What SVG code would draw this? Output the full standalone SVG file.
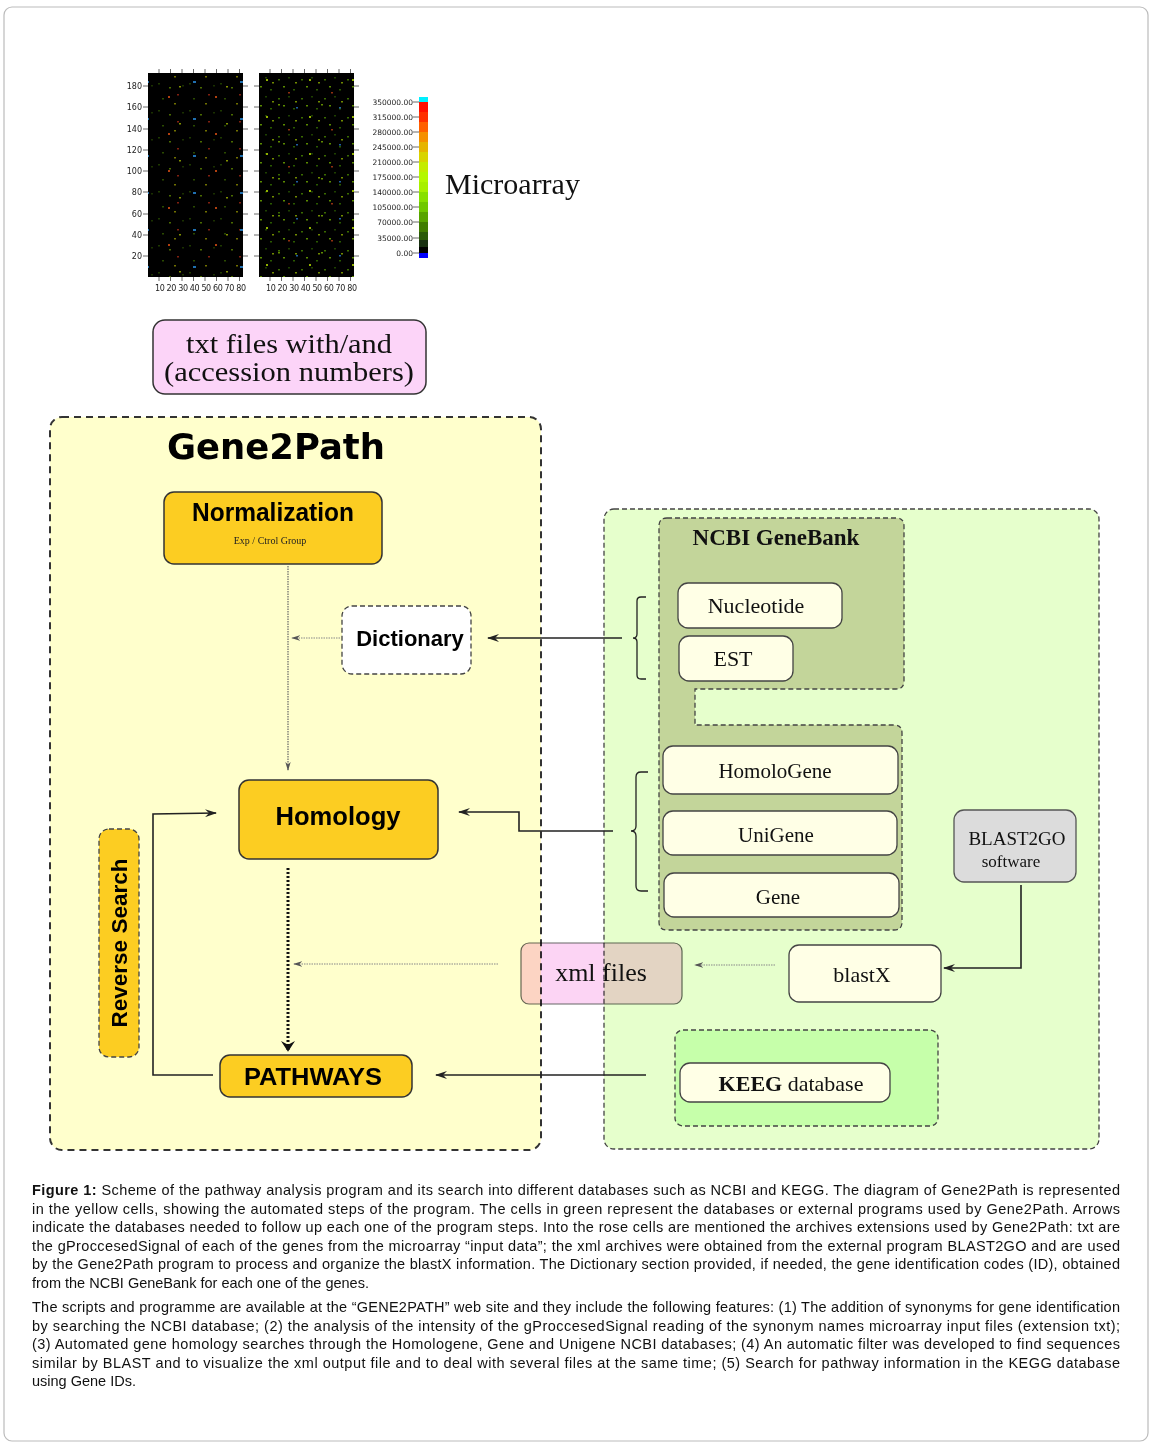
<svg xmlns="http://www.w3.org/2000/svg" width="1154" height="1446" viewBox="0 0 1154 1446">
<style>
.sans{font-family:"Liberation Sans",Arial,sans-serif}
.dv{font-family:"DejaVu Sans",Verdana,sans-serif}
.serif{font-family:"Liberation Serif","Times New Roman",serif}
.box{stroke:#333;stroke-width:1.5}
.gold{fill:#fccd22}
.cream{fill:#ffffe6;stroke:#444;stroke-width:1.3}
.dash{stroke:#333;stroke-dasharray:7,5;stroke-width:2}
.dash2{stroke:#444;stroke-dasharray:5,3;stroke-width:1.3}
.conn{fill:none;stroke:#222;stroke-width:1.6}
.light{fill:none;stroke:#888;stroke-width:1.2;stroke-dasharray:1.5,1}
.ax{font-family:"DejaVu Sans",sans-serif;font-size:8px;fill:#222}
.tick{stroke:#444;stroke-width:0.8}
.cap{font-family:"Liberation Sans",Arial,sans-serif;font-size:14.5px;fill:#111}
</style>
<defs>
<marker id="arr" viewBox="0 0 12 8" refX="11" refY="4" markerWidth="12" markerHeight="8" markerUnits="userSpaceOnUse" orient="auto">
<path d="M0,0 L12,4 L0,8 L4,4 z" fill="#222"/>
</marker>
<marker id="arrL" viewBox="0 0 10 6" refX="9" refY="3" markerWidth="9" markerHeight="6" markerUnits="userSpaceOnUse" orient="auto">
<path d="M0,0 L10,3 L0,6 L3,3 z" fill="#555"/>
</marker>
<marker id="arrB" viewBox="0 0 14 18" refX="13" refY="9" markerWidth="18" markerHeight="14" markerUnits="userSpaceOnUse" orient="auto">
<path d="M0,0 L14,9 L0,18 L5,9 z" fill="#111"/>
</marker>
<pattern id="dotsA" width="31" height="27" patternUnits="userSpaceOnUse">
<rect x="3" y="2" width="2" height="1.5" fill="#1e3a00"/>
<rect x="14" y="6" width="2" height="1.5" fill="#4a6a00"/>
<rect x="22" y="13" width="2" height="1.5" fill="#802010"/>
<rect x="7" y="17" width="2" height="1.5" fill="#2a4a00"/>
<rect x="19" y="22" width="2" height="1.5" fill="#707000"/>
<rect x="27" y="4" width="2" height="1.5" fill="#1a3000"/>
</pattern>
<pattern id="dotsB" width="47" height="37" patternUnits="userSpaceOnUse">
<rect x="5" y="7" width="3" height="2" fill="#2070b0"/>
<rect x="27" y="22" width="2" height="2" fill="#b04010"/>
<rect x="38" y="12" width="2" height="1.5" fill="#809000"/>
</pattern>
<pattern id="dotsC" width="23" height="19" patternUnits="userSpaceOnUse">
<rect x="2" y="3" width="2" height="1.5" fill="#3a6a00"/>
<rect x="12" y="1" width="2" height="1.5" fill="#1e4000"/>
<rect x="7" y="10" width="2" height="1.5" fill="#5a8a00"/>
<rect x="17" y="13" width="2" height="1.5" fill="#2a5a00"/>
<rect x="19" y="6" width="2" height="1.5" fill="#708a00"/>
</pattern>
<pattern id="dotsD" width="43" height="37" patternUnits="userSpaceOnUse">
<rect x="8" y="5" width="2" height="2" fill="#90b000"/>
<rect x="30" y="18" width="2" height="1.5" fill="#903010"/>
<rect x="20" y="30" width="2" height="1.5" fill="#608a00"/>
<rect x="38" y="33" width="2" height="1.5" fill="#2060a0"/>
</pattern>
</defs>

<rect x="4" y="7" width="1144" height="1434" rx="8" fill="#fff" stroke="#bbb" stroke-width="1.2"/>

<!-- Microarray image -->
<g id="microarray">
<rect x="148" y="73" width="95" height="204" fill="#000"/>
<rect x="148" y="73" width="95" height="204" fill="url(#dotsA)"/>
<rect x="148" y="73" width="95" height="204" fill="url(#dotsB)"/>
<rect x="259" y="73" width="95" height="204" fill="#000"/>
<rect x="259" y="73" width="95" height="204" fill="url(#dotsC)"/>
<rect x="259" y="73" width="95" height="204" fill="url(#dotsD)"/>
<g class="tick">
<path d="M143,86h5M143,107h5M143,129h5M143,150h5M143,171h5M143,192h5M143,214h5M143,235h5M143,256h5"/>
<path d="M243,86h5M243,107h5M243,129h5M243,150h5M243,171h5M243,192h5M243,214h5M243,235h5M243,256h5"/>
<path d="M254,86h5M254,107h5M254,129h5M254,150h5M254,171h5M254,192h5M254,214h5M254,235h5M254,256h5"/>
<path d="M354,86h5M354,107h5M354,129h5M354,150h5M354,171h5M354,192h5M354,214h5M354,235h5M354,256h5"/>
<path d="M159,69v4M170.5,69v4M182,69v4M193.5,69v4M205,69v4M216.5,69v4M228,69v4M239.5,69v4"/>
<path d="M270,69v4M281.5,69v4M293,69v4M304.5,69v4M316,69v4M327.5,69v4M339,69v4M350.5,69v4"/>
<path d="M159,277v4M170.5,277v4M182,277v4M193.5,277v4M205,277v4M216.5,277v4M228,277v4M239.5,277v4"/>
<path d="M270,277v4M281.5,277v4M293,277v4M304.5,277v4M316,277v4M327.5,277v4M339,277v4M350.5,277v4"/>
</g>
<g class="ax" text-anchor="end">
<text x="142" y="89">180</text><text x="142" y="110">160</text><text x="142" y="132">140</text>
<text x="142" y="153">120</text><text x="142" y="174">100</text><text x="142" y="195">80</text>
<text x="142" y="217">60</text><text x="142" y="238">40</text><text x="142" y="259">20</text>
</g>
<text class="ax" x="155" y="291" textLength="91" lengthAdjust="spacing">10 20 30 40 50 60 70 80</text>
<text class="ax" x="266" y="291" textLength="91" lengthAdjust="spacing">10 20 30 40 50 60 70 80</text>
<!-- colorbar -->
<rect x="419" y="97" width="9" height="5" fill="#00f0ff"/>
<rect x="419" y="102" width="9" height="10" fill="#ff1000"/>
<rect x="419" y="112" width="9" height="10" fill="#ff3000"/>
<rect x="419" y="122" width="9" height="10" fill="#ff6000"/>
<rect x="419" y="132" width="9" height="10" fill="#f59000"/>
<rect x="419" y="142" width="9" height="10" fill="#e6b400"/>
<rect x="419" y="152" width="9" height="10" fill="#d8d400"/>
<rect x="419" y="162" width="9" height="10" fill="#c4ec00"/>
<rect x="419" y="172" width="9" height="10" fill="#b4f800"/>
<rect x="419" y="182" width="9" height="10" fill="#a8f000"/>
<rect x="419" y="192" width="9" height="10" fill="#88e000"/>
<rect x="419" y="202" width="9" height="10" fill="#70c800"/>
<rect x="419" y="212" width="9" height="10" fill="#58a400"/>
<rect x="419" y="222" width="9" height="10" fill="#407c00"/>
<rect x="419" y="232" width="9" height="8" fill="#2a5a08"/>
<rect x="419" y="240" width="9" height="7" fill="#183010"/>
<rect x="419" y="247" width="9" height="6" fill="#000"/>
<rect x="419" y="253" width="9" height="5" fill="#0000ff"/>
<g class="tick">
<path d="M413,102h6M413,117h6M413,132h6M413,147h6M413,162h6M413,177h6M413,192h6M413,207h6M413,222h6M413,238h6M413,253h6"/>
</g>
<g class="ax" text-anchor="end" style="font-size:7.5px">
<text x="413" y="105">350000.00</text><text x="413" y="120">315000.00</text><text x="413" y="135">280000.00</text>
<text x="413" y="150">245000.00</text><text x="413" y="165">210000.00</text><text x="413" y="180">175000.00</text>
<text x="413" y="195">140000.00</text><text x="413" y="210">105000.00</text><text x="413" y="225">70000.00</text>
<text x="413" y="241">35000.00</text><text x="413" y="256">0.00</text>
</g>
<text class="serif" x="445" y="194" font-size="30" fill="#111">Microarray</text>
</g>

<g id="txtfiles">
<rect x="153" y="320" width="273" height="74" rx="12" fill="#fcd4f8" class="box"/>
<text class="serif" x="289" y="353" font-size="27" text-anchor="middle" textLength="206" lengthAdjust="spacingAndGlyphs" fill="#111">txt files with/and</text>
<text class="serif" x="289" y="381" font-size="27" text-anchor="middle" textLength="250" lengthAdjust="spacingAndGlyphs" fill="#111">(accession numbers)</text>
</g>

<!-- containers -->
<g id="gene2path">
<rect x="50" y="417" width="491" height="733" rx="12" fill="#ffffcc" class="dash"/>
<text class="dv" x="276" y="459" font-size="35" font-weight="bold" text-anchor="middle" textLength="218" lengthAdjust="spacingAndGlyphs" fill="#000">Gene2Path</text>
</g>
<g id="external">
<rect x="604" y="509" width="495" height="640" rx="10" fill="#e6ffcc" class="dash2"/>
</g>
<g id="ncbi">
<path d="M667,518 H896 Q904,518 904,526 V681 Q904,689 896,689 H695 V725 H894 Q902,725 902,733 V922 Q902,930 894,930 H667 Q659,930 659,922 V526 Q659,518 667,518 Z" fill="#c3d59a" class="dash2"/>
<text class="serif" x="776" y="545" font-size="23" font-weight="bold" text-anchor="middle" fill="#111">NCBI GeneBank</text>
</g>
<g id="keggarea">
<rect x="675" y="1030" width="263" height="96" rx="8" fill="#c6ffaa" class="dash2"/>
</g>

<!-- connectors -->
<g id="connectors">
<line x1="288" y1="566" x2="288" y2="770" class="light" marker-end="url(#arrL)" style="stroke:#666"/>
<line x1="340" y1="638" x2="292" y2="638" class="light" marker-end="url(#arrL)"/>
<line x1="622" y1="638" x2="488" y2="638" class="conn" marker-end="url(#arr)"/>
<polyline points="613,831 519,831 519,812 459,812" class="conn" marker-end="url(#arr)"/>
<line x1="288" y1="868" x2="288" y2="1051" style="fill:none;stroke:#111;stroke-width:3;stroke-dasharray:2,2" marker-end="url(#arrB)"/>
<line x1="498" y1="964" x2="294" y2="964" class="light" marker-end="url(#arrL)"/>
<line x1="646" y1="1075" x2="436" y2="1075" class="conn" marker-end="url(#arr)"/>
<polyline points="213,1075 153,1075 153,814 216,813" class="conn" marker-end="url(#arr)"/>
<polyline points="1021,885 1021,968 944,968" class="conn" marker-end="url(#arr)"/>
<line x1="775" y1="965" x2="695" y2="965" class="light" marker-end="url(#arrL)"/>
<path d="M646,597 H641 Q637,597 637,601 V634 Q637,638 633,638 Q637,638 637,642 V675 Q637,679 641,679 H646" class="conn" style="stroke-width:1.3"/>
<path d="M648,772 H641 Q636,772 636,777 V826 Q636,831 631,831 Q636,831 636,836 V886 Q636,891 641,891 H648" class="conn" style="stroke-width:1.3"/>
</g>

<!-- nodes -->
<g id="normalization">
<rect x="164" y="492" width="218" height="72" rx="10" class="gold box"/>
<text class="sans" x="273" y="521" font-size="26" font-weight="bold" text-anchor="middle" textLength="162" lengthAdjust="spacingAndGlyphs" fill="#000">Normalization</text>
<text class="serif" x="270" y="544" font-size="10" text-anchor="middle" fill="#222">Exp / Ctrol Group</text>
</g>
<g id="dictionary">
<rect x="342" y="606" width="129" height="68" rx="10" fill="#fff" class="dash2"/>
<text class="sans" x="410" y="646" font-size="22" font-weight="bold" text-anchor="middle" fill="#000">Dictionary</text>
</g>
<g id="homology">
<rect x="239" y="780" width="199" height="79" rx="10" class="gold box"/>
<text class="sans" x="338" y="825" font-size="26" font-weight="bold" text-anchor="middle" textLength="125" lengthAdjust="spacingAndGlyphs" fill="#000">Homology</text>
</g>
<g id="pathways">
<rect x="220" y="1055" width="192" height="42" rx="10" class="gold box"/>
<text class="sans" x="313" y="1085" font-size="24" font-weight="bold" text-anchor="middle" textLength="138" lengthAdjust="spacingAndGlyphs" fill="#000">PATHWAYS</text>
</g>
<g id="reversesearch">
<rect x="99" y="829" width="40" height="228" rx="10" class="gold dash2"/>
<text class="sans" transform="translate(127,943) rotate(-90)" x="0" y="0" font-size="22" font-weight="bold" text-anchor="middle" textLength="169" lengthAdjust="spacingAndGlyphs" fill="#000">Reverse Search</text>
</g>
<g id="nucleotide">
<rect x="678" y="583" width="164" height="45" rx="10" class="cream"/>
<text class="serif" x="756" y="613" font-size="22" text-anchor="middle" fill="#111">Nucleotide</text>
</g>
<g id="est">
<rect x="679" y="636" width="114" height="45" rx="10" class="cream"/>
<text class="serif" x="733" y="666" font-size="22" text-anchor="middle" fill="#111">EST</text>
</g>
<g id="homologene">
<rect x="663" y="746" width="235" height="48" rx="10" class="cream"/>
<text class="serif" x="775" y="778" font-size="21" text-anchor="middle" fill="#111">HomoloGene</text>
</g>
<g id="unigene">
<rect x="663" y="811" width="234" height="44" rx="10" class="cream"/>
<text class="serif" x="776" y="842" font-size="21" text-anchor="middle" fill="#111">UniGene</text>
</g>
<g id="gene">
<rect x="664" y="873" width="235" height="44" rx="10" class="cream"/>
<text class="serif" x="778" y="904" font-size="21" text-anchor="middle" fill="#111">Gene</text>
</g>
<g id="blast2go">
<rect x="954" y="810" width="122" height="72" rx="10" fill="#dcdcdc" stroke="#555" stroke-width="1.3"/>
<text class="serif" x="1017" y="845" font-size="19" text-anchor="middle" fill="#111">BLAST2GO</text>
<text class="serif" x="1011" y="867" font-size="17" text-anchor="middle" fill="#111">software</text>
</g>
<g id="blastx">
<rect x="789" y="945" width="152" height="57" rx="10" class="cream"/>
<text class="serif" x="862" y="982" font-size="22" text-anchor="middle" fill="#111">blastX</text>
</g>
<g id="xmlfiles">
<rect x="521" y="943" width="161" height="61" rx="8" fill="#fcd4f4" stroke="#666" stroke-width="1.2" style="mix-blend-mode:multiply"/>
<text class="serif" x="601" y="981" font-size="26" text-anchor="middle" fill="#111">xml files</text>
</g>
<g id="kegg">
<rect x="680" y="1063" width="210" height="39" rx="10" class="cream"/>
<text class="serif" x="791" y="1091" font-size="22" text-anchor="middle" fill="#111"><tspan font-weight="bold">KEEG</tspan> database</text>
</g>

<!-- caption -->
<g id="caption">
<text class="cap" x="32" y="1195" textLength="1088" lengthAdjust="spacing"><tspan font-weight="bold">Figure 1:</tspan> Scheme of the pathway analysis program and its search into different databases such as NCBI and KEGG. The diagram of Gene2Path is represented</text>
<text class="cap" x="32" y="1213.5" textLength="1088" lengthAdjust="spacing">in the yellow cells, showing the automated steps of the program. The cells in green represent the databases or external programs used by Gene2Path. Arrows</text>
<text class="cap" x="32" y="1232" textLength="1088" lengthAdjust="spacing">indicate the databases needed to follow up each one of the program steps. Into the rose cells are mentioned the archives extensions used by Gene2Path: txt are</text>
<text class="cap" x="32" y="1250.5" textLength="1088" lengthAdjust="spacing">the gProccesedSignal of each of the genes from the microarray “input data”; the xml archives were obtained from the external program BLAST2GO and are used</text>
<text class="cap" x="32" y="1269" textLength="1088" lengthAdjust="spacing">by the Gene2Path program to process and organize the blastX information. The Dictionary section provided, if needed, the gene identification codes (ID), obtained</text>
<text class="cap" x="32" y="1287.5">from the NCBI GeneBank for each one of the genes.</text>
<text class="cap" x="32" y="1312" textLength="1088" lengthAdjust="spacing">The scripts and programme are available at the “GENE2PATH” web site and they include the following features: (1) The addition of synonyms for gene identification</text>
<text class="cap" x="32" y="1330.5" textLength="1088" lengthAdjust="spacing">by searching the NCBI database; (2) the analysis of the intensity of the gProccesedSignal reading of the synonym names microarray input files (extension txt);</text>
<text class="cap" x="32" y="1349" textLength="1088" lengthAdjust="spacing">(3) Automated gene homology searches through the Homologene, Gene and Unigene NCBI databases; (4) An automatic filter was developed to find sequences</text>
<text class="cap" x="32" y="1367.5" textLength="1088" lengthAdjust="spacing">similar by BLAST and to visualize the xml output file and to deal with several files at the same time; (5) Search for pathway information in the KEGG database</text>
<text class="cap" x="32" y="1386">using Gene IDs.</text>
</g>
</svg>
